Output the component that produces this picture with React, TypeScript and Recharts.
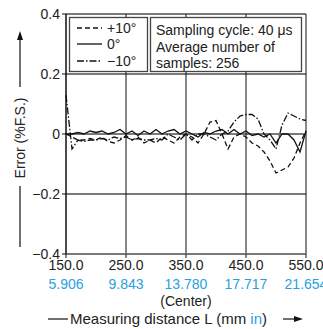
import React from "react";
import {
  LineChart,
  Line,
  XAxis,
  YAxis,
  CartesianGrid,
} from "recharts";

// measuring distance (mm)
const distances = [
  150, 160, 170, 180, 190, 200, 210, 220, 230, 240, 250, 260, 270, 280, 290,
  300, 310, 320, 330, 340, 350, 360, 370, 380, 390, 400, 410, 420, 430, 440,
  450, 460, 470, 480, 490, 500, 510, 520, 530, 540, 550,
];

// error (%F.S.) per angle
const plus10 = [
  0.0, -0.01, -0.02, -0.02, -0.015, -0.02, -0.01, -0.025, -0.03, -0.02, -0.005,
  -0.02, -0.01, -0.03, -0.02, -0.03, -0.01, -0.02, -0.03, -0.01, 0.0, -0.01,
  -0.03, 0.0, 0.04, 0.045, 0.0, -0.05, -0.01, 0.0, -0.01, -0.03, -0.04, -0.06,
  -0.09, -0.13, -0.12, -0.11, -0.08, -0.03, 0.01,
];
const zero = [
  0.0, 0.0, 0.005, 0.0, 0.01, 0.005, 0.01, 0.0, 0.005, 0.015, 0.0, 0.01, -0.005,
  0.01, 0.0, 0.015, 0.0, 0.01, 0.015, 0.0, 0.01, 0.0, -0.01, 0.005, 0.0, 0.01,
  0.015, 0.0, 0.015, 0.0, 0.01, -0.005, 0.0, -0.01, 0.0, -0.03, 0.0, 0.0, -0.02,
  -0.06, 0.01,
];
const minus10 = [
  0.13, -0.05, -0.02, -0.025, -0.02, -0.02, -0.015, -0.02, -0.01, -0.015,
  -0.01, -0.02, -0.015, -0.02, -0.02, -0.015, -0.02, 0.0, -0.01, -0.02, 0.0,
  -0.02, 0.0, 0.0, -0.01, -0.02, 0.0, 0.01, 0.04, 0.06, 0.065, 0.065, 0.05, 0.0,
  -0.02, -0.05, 0.03, 0.07, 0.06, 0.05, 0.045,
];

const xTicks = [150, 250, 350, 450, 550];
const xTickLabels = ["150.0", "250.0", "350.0", "450.0", "550.0"];
const inchLabels = ["5.906", "9.843", "13.780", "17.717", "21.654"];
const yTicks = [-0.4, -0.2, 0, 0.2, 0.4];

const data = distances.map((d, i) => ({
  d,
  p10: plus10[i],
  z: zero[i],
  m10: minus10[i],
}));

const FONT = "'Liberation Sans', Arial, sans-serif";
const BLUE = "#29a0e0";

const XTick = (props: any) => {
  const { x, y, payload } = props;
  const i = xTicks.indexOf(payload.value);
  return (
    <g>
      <text x={x} y={y + 10} textAnchor="middle" fontSize={14} fill="#222" fontFamily={FONT}>
        {xTickLabels[i]}
      </text>
      <text x={x} y={y + 29} textAnchor="middle" fontSize={14} fill={BLUE} fontFamily={FONT}>
        {inchLabels[i]}
      </text>
      {payload.value === 350 && (
        <text x={x} y={y + 46} textAnchor="middle" fontSize={14} fill="#222" fontFamily={FONT}>
          (Center)
        </text>
      )}
    </g>
  );
};

const YTick = (props: any) => {
  const { x, y, payload } = props;
  const v = payload.value;
  const s = v === 0 ? "0" : v < 0 ? "\u2212" + Math.abs(v).toFixed(1) : v.toFixed(1);
  return (
    <text x={x} y={y + 5} textAnchor="end" fontSize={14} fill="#222" fontFamily={FONT}>
      {s}
    </text>
  );
};

export default function App() {
  return (
    <div style={{ position: "fixed", left: 0, top: 0, width: 323, height: 329, background: "#fff" }}>
      <LineChart
        width={323}
        height={329}
        data={data}
        margin={{ top: 14, right: 17, left: 0, bottom: 0 }}
      >
        <CartesianGrid vertical={false} stroke="#7a7a7a" strokeWidth={2} />
        <CartesianGrid horizontal={false} stroke="#111" strokeWidth={1} />
        <XAxis
          dataKey="d"
          type="number"
          domain={[150, 550]}
          ticks={xTicks}
          height={75}
          axisLine={{ stroke: "#7a7a7a", strokeWidth: 2 }}
          tickLine={{ stroke: "#111" }}
          tickSize={4}
          tick={<XTick />}
        />
        <YAxis
          type="number"
          domain={[-0.4, 0.4]}
          ticks={yTicks}
          width={66}
          axisLine={{ stroke: "#111" }}
          tickLine={{ stroke: "#111" }}
          tickSize={4}
          tick={<YTick />}
        />
        <Line dataKey="p10" stroke="#111" strokeWidth={1.3} strokeDasharray="5 3" dot={false} isAnimationActive={false} />
        <Line dataKey="z" stroke="#111" strokeWidth={1.3} dot={false} isAnimationActive={false} />
        <Line dataKey="m10" stroke="#111" strokeWidth={1.3} strokeDasharray="7 2 1.5 2" dot={false} isAnimationActive={false} />
      </LineChart>

      <svg
        width={323}
        height={329}
        style={{ position: "absolute", left: 0, top: 0, pointerEvents: "none" }}
        fontFamily={FONT}
      >
        {/* legend box */}
        <rect x={69.5} y={17.5} width={78} height={54} fill="#fff" stroke="#444" strokeWidth={1.3} />
        <line x1={77} x2={102} y1={28} y2={28} stroke="#111" strokeWidth={1.3} strokeDasharray="5 3" />
        <line x1={77} x2={102} y1={44} y2={44} stroke="#111" strokeWidth={1.3} />
        <line x1={77} x2={102} y1={61} y2={61} stroke="#111" strokeWidth={1.3} strokeDasharray="7 2 1.5 2" />
        <text x={107} y={33} fontSize={14} fill="#222">+10°</text>
        <text x={107} y={49} fontSize={14} fill="#222">0°</text>
        <text x={107} y={66} fontSize={14} fill="#222">{"\u221210°"}</text>

        {/* conditions box */}
        <rect x={150.5} y={17.5} width={151} height={54} fill="#fff" stroke="#444" strokeWidth={1.3} />
        <text x={156} y={35} fontSize={14} fill="#222">Sampling cycle: 40 μs</text>
        <text x={156} y={52} fontSize={14} fill="#222">Average number of</text>
        <text x={156} y={68} fontSize={14} fill="#222">samples: 256</text>

        {/* y axis title */}
        <line x1={20} x2={20} y1={247} y2={186} stroke="#111" strokeWidth={1.2} />
        <line x1={20} x2={20} y1={87} y2={38} stroke="#111" strokeWidth={1.2} />
        <polygon points="20,31 17,40 23,40" fill="#111" />
        <text
          x={20}
          y={138}
          fontSize={14}
          fill="#222"
          textAnchor="middle"
          dominantBaseline="central"
          transform="rotate(-90 20 138)"
        >
          Error (%F.S.)
        </text>

        {/* x axis title */}
        <line x1={48} x2={68} y1={319} y2={319} stroke="#111" strokeWidth={1.2} />
        <text x={70} y={324} fontSize={15} fill="#222">
          Measuring distance L (mm <tspan fill={BLUE}>in</tspan>)
        </text>
        <line x1={283} x2={295} y1={319} y2={319} stroke="#111" strokeWidth={1.2} />
        <polygon points="303,319 294,316 294,322" fill="#111" />
      </svg>
    </div>
  );
}
